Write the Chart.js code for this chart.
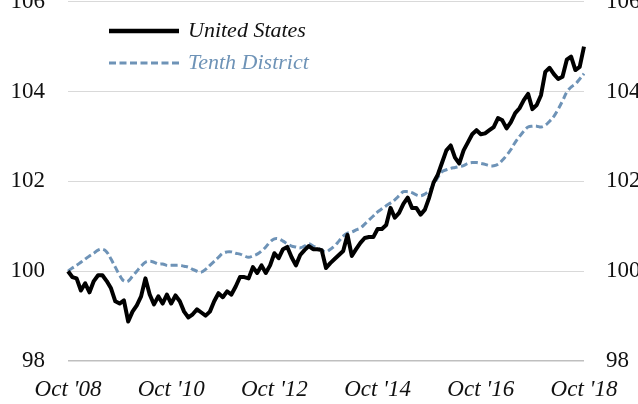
<!DOCTYPE html>
<html>
<head>
<meta charset="utf-8">
<script src="https://cdn.jsdelivr.net/npm/chart.js@4/dist/chart.umd.min.js"></script>
<style>
  html, body { margin: 0; padding: 0; background: #fff; }
  #wrap { position: relative; width: 638px; height: 404px; overflow: hidden; }
  #chart { position: absolute; left: 0; top: -35px; }
</style>
</head>
<body>
<div id="wrap"><canvas id="chart" width="660" height="439"></canvas></div>
<script>
// monthly index, Oct 2008 .. Oct 2018
const startYear = 2008;
const monthNames = ['Jan','Feb','Mar','Apr','May','Jun','Jul','Aug','Sep','Oct','Nov','Dec'];
const yTicks = [98, 100, 102, 104, 106];

const unitedStates = [
  100.00, 99.87, 99.84, 99.57, 99.73, 99.53, 99.78, 99.91, 99.91, 99.78,
  99.62, 99.33, 99.28, 99.35, 98.88, 99.10, 99.24, 99.44, 99.84, 99.48,
  99.26, 99.44, 99.28, 99.48, 99.28, 99.46, 99.33, 99.10, 98.97, 99.04,
  99.15, 99.08, 99.01, 99.10, 99.33, 99.51, 99.42, 99.55, 99.48, 99.66,
  99.87, 99.87, 99.84, 100.09, 99.96, 100.13, 99.96, 100.13, 100.40, 100.29,
  100.49, 100.54, 100.31, 100.13, 100.36, 100.47, 100.56, 100.49, 100.49, 100.47,
  100.07, 100.18, 100.27, 100.36, 100.45, 100.81, 100.34, 100.49, 100.63, 100.74,
  100.76, 100.76, 100.94, 100.94, 101.03, 101.41, 101.19, 101.30, 101.50, 101.64,
  101.41, 101.41, 101.26, 101.37, 101.64, 101.97, 102.15, 102.42, 102.69, 102.80,
  102.53, 102.40, 102.69, 102.87, 103.05, 103.14, 103.05, 103.07, 103.14, 103.21,
  103.41, 103.36, 103.18, 103.32, 103.52, 103.63, 103.81, 103.95, 103.61, 103.70,
  103.92, 104.44, 104.53, 104.39, 104.28, 104.33, 104.71, 104.78, 104.48, 104.55,
  105.00
];

const tenthDistrict = [
  100.00, 100.07, 100.13, 100.20, 100.27, 100.34, 100.40, 100.47, 100.49, 100.43,
  100.27, 100.09, 99.91, 99.78, 99.78, 99.89, 100.00, 100.11, 100.20, 100.22,
  100.20, 100.16, 100.16, 100.13, 100.13, 100.13, 100.13, 100.11, 100.09, 100.04,
  100.00, 99.98, 100.04, 100.13, 100.22, 100.31, 100.40, 100.43, 100.43, 100.40,
  100.38, 100.34, 100.31, 100.34, 100.38, 100.45, 100.54, 100.65, 100.72, 100.72,
  100.67, 100.61, 100.56, 100.54, 100.52, 100.56, 100.61, 100.56, 100.52, 100.47,
  100.43, 100.49, 100.56, 100.67, 100.78, 100.85, 100.87, 100.92, 100.96, 101.05,
  101.14, 101.23, 101.32, 101.39, 101.46, 101.52, 101.59, 101.68, 101.77, 101.77,
  101.75, 101.70, 101.68, 101.72, 101.79, 101.93, 102.09, 102.22, 102.26, 102.29,
  102.31, 102.33, 102.35, 102.40, 102.42, 102.42, 102.40, 102.38, 102.35, 102.35,
  102.38, 102.47, 102.58, 102.71, 102.87, 103.00, 103.12, 103.21, 103.23, 103.23,
  103.21, 103.25, 103.34, 103.45, 103.61, 103.79, 103.99, 104.10, 104.17, 104.28,
  104.40
];

let labels = [];
for (let i = 0; i < unitedStates.length; i++) {
  let m = (9 + i) % 12;
  let y = startYear + Math.floor((9 + i) / 12);
  labels.push(monthNames[m] + " '" + String(y).slice(2));
}

const serif = '"Liberation Serif", "DejaVu Serif", serif';
const canvasShift = 35; // canvas is pulled up so the 106 label is cut like the original

// legend drawn as two stacked rows in the upper left
const lineLegend = {
  id: 'lineLegend',
  afterDraw(chart) {
    const ctx = chart.ctx;
    ctx.save();
    chart.data.datasets.forEach(function(ds, i) {
      let y = canvasShift + 31 + i * 32;
      ctx.beginPath();
      ctx.lineWidth = ds.legendWidth;
      ctx.strokeStyle = ds.borderColor;
      ctx.setLineDash(ds.borderDash || []);
      ctx.moveTo(109, y);
      ctx.lineTo(179, y);
      ctx.stroke();
      ctx.setLineDash([]);
      ctx.fillStyle = ds.borderColor === '#000000' ? '#111' : ds.borderColor;
      ctx.font = 'italic 22px ' + serif;
      ctx.textBaseline = 'middle';
      ctx.fillText(ds.label, 188, y);
    });
    ctx.restore();
  }
};

new Chart(document.getElementById('chart'), {
  type: 'line',
  data: {
    labels: labels,
    datasets: [{
      label: 'United States',
      data: unitedStates,
      borderColor: '#000000',
      borderWidth: 4,
      legendWidth: 4.5,
      pointRadius: 0,
      tension: 0,
      borderJoinStyle: 'round',
      yAxisID: 'y'
    }, {
      label: 'Tenth District',
      data: tenthDistrict,
      borderColor: '#6e93b7',
      borderWidth: 3,
      legendWidth: 3,
      borderDash: [7, 3.5],
      pointRadius: 0,
      tension: 0.4,
      yAxisID: 'y'
    }]
  },
  options: {
    responsive: false,
    animation: false,
    layout: { padding: { top: 0, left: 0, right: 0, bottom: 0 } },
    plugins: {
      legend: { display: false },
      tooltip: { enabled: false }
    },
    scales: {
      x: {
        grid: { display: false, drawTicks: false },
        border: { display: false },
        ticks: {
          autoSkip: false,
          maxRotation: 0,
          padding: 15,
          color: '#111',
          font: { family: serif, size: 23, style: 'italic' },
          callback: function(v, i) { return i % 24 === 0 ? labels[i] : null; }
        },
        afterFit: function(scale) { scale.height = 43; }
      },
      y: {
        position: 'left',
        min: yTicks[0],
        max: yTicks[yTicks.length - 1],
        grid: {
          drawTicks: false,
          color: function(c) { return c.index === 0 ? '#bfbfbf' : '#d9d9d9'; },
          lineWidth: function(c) { return c.index === 0 ? 1.5 : 1; }
        },
        border: { display: false },
        afterBuildTicks: function(scale) { scale.ticks = yTicks.map(function(v) { return {value: v}; }); },
        ticks: { padding: 23, color: '#111', font: { family: serif, size: 23 } },
        afterFit: function(scale) { scale.width = 68; }
      },
      y2: {
        position: 'right',
        min: yTicks[0],
        max: yTicks[yTicks.length - 1],
        grid: { display: false, drawTicks: false },
        border: { display: false },
        afterBuildTicks: function(scale) { scale.ticks = yTicks.map(function(v) { return {value: v}; }); },
        ticks: { padding: 22, color: '#111', font: { family: serif, size: 23 } },
        afterFit: function(scale) { scale.width = 76; }
      }
    }
  },
  plugins: [lineLegend]
});
</script>
</body>
</html>
